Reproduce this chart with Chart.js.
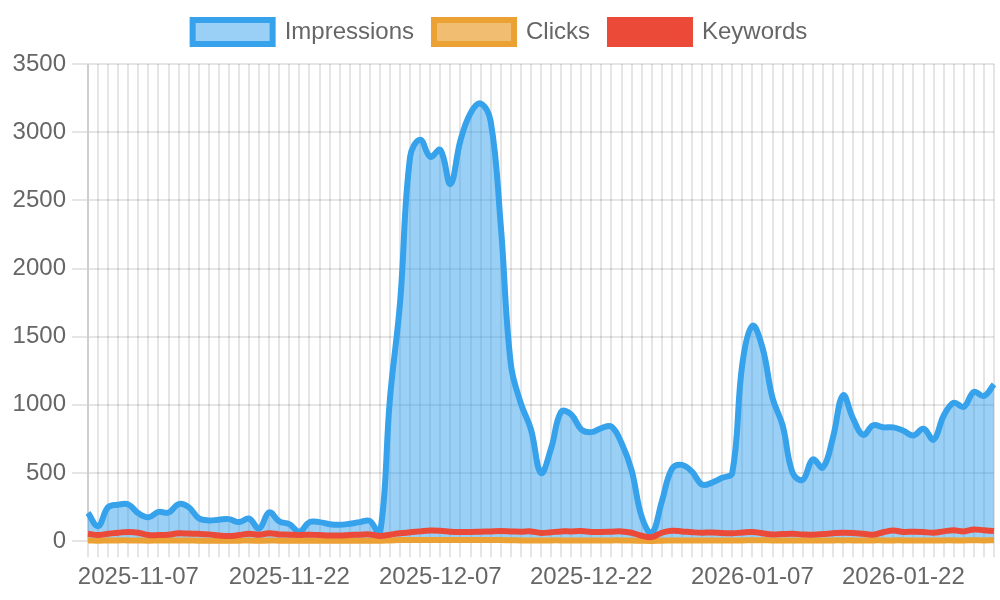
<!DOCTYPE html>
<html>
<head>
<meta charset="utf-8">
<script src="https://cdn.jsdelivr.net/npm/chart.js@4"></script>
<style>
    html, body { margin: 0; padding: 0; background: #fff; }
    .page { width: 1000px; height: 600px; overflow: hidden; position: relative; }
    /* chart is laid out at 500x300 and drawn at 2x */
    .chart-box { position: absolute; left: 0; top: 0; width: 500px; height: 300px; transform: scale(2); transform-origin: 0 0; }
</style>
</head>
<body>
<div class="page"><div class="chart-box"><canvas id="traffic-chart"></canvas></div></div>
<script>
// ─── Data ──────────────────────────────────────────────
const dates = [
    '2025-11-02', '2025-11-03', '2025-11-04', '2025-11-05', '2025-11-06', '2025-11-07', '2025-11-08',
    '2025-11-09', '2025-11-10', '2025-11-11', '2025-11-12', '2025-11-13', '2025-11-14', '2025-11-15',
    '2025-11-16', '2025-11-17', '2025-11-18', '2025-11-19', '2025-11-20', '2025-11-21', '2025-11-22',
    '2025-11-23', '2025-11-24', '2025-11-25', '2025-11-26', '2025-11-27', '2025-11-28', '2025-11-29',
    '2025-11-30', '2025-12-01', '2025-12-02', '2025-12-03', '2025-12-04', '2025-12-05', '2025-12-06',
    '2025-12-07', '2025-12-08', '2025-12-09', '2025-12-10', '2025-12-11', '2025-12-12', '2025-12-13',
    '2025-12-14', '2025-12-15', '2025-12-16', '2025-12-17', '2025-12-18', '2025-12-19', '2025-12-20',
    '2025-12-21', '2025-12-22', '2025-12-23', '2025-12-24', '2025-12-25', '2025-12-26', '2025-12-27',
    '2025-12-28', '2025-12-29', '2025-12-30', '2025-12-31', '2026-01-01', '2026-01-02', '2026-01-03',
    '2026-01-04', '2026-01-05', '2026-01-06', '2026-01-07', '2026-01-08', '2026-01-09', '2026-01-10',
    '2026-01-11', '2026-01-12', '2026-01-13', '2026-01-14', '2026-01-15', '2026-01-16', '2026-01-17',
    '2026-01-18', '2026-01-19', '2026-01-20', '2026-01-21', '2026-01-22', '2026-01-23', '2026-01-24',
    '2026-01-25', '2026-01-26', '2026-01-27', '2026-01-28', '2026-01-29', '2026-01-30', '2026-01-31'
];

const shownTicks = ['2025-11-07', '2025-11-22', '2025-12-07', '2025-12-22', '2026-01-07', '2026-01-22'];

const impressions = [
    208, 110, 250, 268, 270, 205, 175, 215, 210, 272,
    250, 168, 152, 158, 162, 140, 165, 92, 212, 145,
    125, 70, 140, 140, 125, 120, 128, 140, 148, 55,
    1050, 1750, 2820, 2945, 2820, 2870, 2620, 2940, 3140, 3210,
    3080, 2320, 1300, 1010, 820, 500, 680, 950, 930, 820,
    800, 830, 840, 720, 520, 180, 60, 290, 530, 560,
    510, 415, 430, 465, 500, 1300, 1580, 1420, 1050, 850,
    500, 450, 600, 540, 760, 1070, 900, 780, 850, 835,
    835, 810, 775, 825, 745, 920, 1015, 985, 1095, 1065,
    1150
];

const clicks = [
    5, 4, 5, 6, 6, 5, 4, 5, 5, 6,
    5, 4, 4, 4, 4, 4, 5, 3, 5, 4,
    4, 3, 4, 4, 4, 4, 4, 4, 4, 3,
    6, 8, 9, 9, 8, 9, 8, 9, 9, 9,
    9, 8, 7, 6, 6, 5, 6, 6, 6, 6,
    6, 6, 6, 6, 5, 3, 2, 4, 5, 5,
    5, 5, 5, 5, 5, 6, 7, 7, 6, 6,
    5, 5, 5, 5, 6, 6, 6, 5, 6, 6,
    6, 6, 5, 6, 5, 6, 6, 6, 7, 6,
    7
];

const keywords = [
    54, 45, 55, 62, 68, 62, 45, 45, 48, 58,
    56, 54, 50, 42, 38, 45, 55, 48, 58, 50,
    48, 45, 48, 45, 42, 42, 45, 48, 50, 38,
    48, 58, 65, 72, 78, 76, 70, 68, 68, 70,
    72, 74, 72, 70, 72, 60, 66, 72, 72, 74,
    68, 68, 70, 72, 62, 40, 30, 62, 76, 72,
    66, 62, 64, 60, 58, 64, 68, 58, 50, 52,
    54, 50, 48, 52, 58, 62, 60, 54, 48, 66,
    78, 68, 70, 68, 62, 72, 80, 72, 86, 80,
    74
];

// ─── Chart ─────────────────────────────────────────────
const ctx = document.getElementById('traffic-chart');

new Chart(ctx, {
    type: 'line',
    data: {
        labels: dates,
        datasets: [
            {
                label: 'Impressions',
                data: impressions,
                borderColor: 'rgb(54, 162, 235)',
                backgroundColor: 'rgba(54, 162, 235, 0.5)',
                fill: 'origin',
                order: 3
            },
            {
                label: 'Clicks',
                data: clicks,
                borderColor: 'rgb(235, 161, 52)',
                backgroundColor: 'rgba(235, 161, 52, 0.7)',
                fill: 'origin',
                order: 2
            },
            {
                label: 'Keywords',
                data: keywords,
                borderColor: 'rgb(236, 74, 56)',
                backgroundColor: 'rgb(236, 74, 56)',
                fill: false,
                order: 1
            }
        ]
    },
    options: {
        responsive: true,
        maintainAspectRatio: false,
        devicePixelRatio: 2,
        animation: false,
        layout: {
            padding: { bottom: 1 }
        },
        elements: {
            line: { borderWidth: 3, tension: 0.4 },
            point: { radius: 0 }
        },
        plugins: {
            legend: {
                position: 'top',
                labels: {
                    sort: (a, b) => a.datasetIndex - b.datasetIndex
                }
            },
            tooltip: { enabled: false }
        },
        scales: {
            x: {
                ticks: {
                    autoSkip: false,
                    maxRotation: 0,
                    callback: function (value) {
                        const label = this.getLabelForValue(value);
                        return shownTicks.includes(label) ? label : '';
                    }
                }
            },
            y: {
                beginAtZero: true,
                afterFit: (scale) => { scale.width = 44; },
                ticks: {
                    stepSize: 500,
                    callback: (value) => String(value)
                }
            }
        }
    }
});
</script>
</body>
</html>
